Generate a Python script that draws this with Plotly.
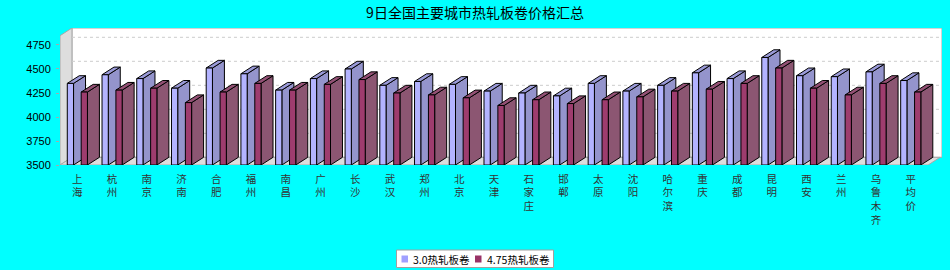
import plotly.graph_objects as go

cities = ["上海", "杭州", "南京", "济南", "合肥", "福州", "南昌", "广州", "长沙", "武汉",
          "郑州", "北京", "天津", "石家庄", "邯郸", "太原", "沈阳", "哈尔滨", "重庆", "成都",
          "昆明", "西安", "兰州", "乌鲁木齐", "平均价"]
s30 = [4350, 4440, 4400, 4300, 4510, 4450, 4280, 4400, 4500, 4330,
       4370, 4340, 4270, 4250, 4220, 4350, 4270, 4330, 4460, 4400,
       4620, 4430, 4420, 4470, 4380]
s475 = [4260, 4280, 4300, 4150, 4260, 4350, 4280, 4340, 4390, 4250,
        4230, 4200, 4120, 4180, 4140, 4180, 4210, 4270, 4290, 4350,
        4510, 4300, 4230, 4350, 4260]
series_names = ["3.0热轧板卷", "4.75热轧板卷"]
yticks = [3500, 3750, 4000, 4250, 4500, 4750]

YMIN, YMAX = 3500, 4927
XMAX = 25.4
DX, DY = 0.345, 80          # pseudo-3D depth offsets (data units)
BW = 0.18                   # bar front width
OFFS = [0.30, 0.70]
front_cols = ["#b3b3ff", "#9e3c6e"]
top_cols = ["#9a9ad8", "#935074"]
side_cols = ["#9494cc", "#8c5672"]
legend_cols = ["#a0a0ff", "#993366"]

# plot-area geometry in pixels (for layout helpers)
L, R, T, B = 60, 942, 28, 165
def px_x(p):
    return (p - L) / (R - L)
def px_y(p):
    return (B - p) / (B - T)

n = len(cities)
fig = go.Figure()
shapes = []
annotations = []

def poly(pts):
    return "M " + " L ".join(f"{x},{y}" for x, y in pts) + " Z"

# back wall
shapes.append(dict(type="path", xref="x", yref="y", layer="below",
                   path=poly([(DX, YMIN + DY), (XMAX, YMIN + DY), (XMAX, YMAX), (DX, YMAX)]),
                   fillcolor="white", line=dict(color="#a8a8a8", width=1)))
# left wall
shapes.append(dict(type="path", xref="x", yref="y", layer="below",
                   path=poly([(0, YMIN), (DX, YMIN + DY), (DX, YMAX), (0, YMAX - DY)]),
                   fillcolor="#dddddd", line=dict(color="#a8a8a8", width=1)))
# floor
shapes.append(dict(type="path", xref="x", yref="y", layer="below",
                   path=poly([(0, YMIN), (n, YMIN), (n + DX, YMIN + DY), (DX, YMIN + DY)]),
                   fillcolor="#dddddd", line=dict(color="#a8a8a8", width=1)))
# grid lines on back wall
for v in yticks[1:]:
    shapes.append(dict(type="line", xref="x", yref="y", layer="below",
                       x0=DX, x1=XMAX, y0=v + DY, y1=v + DY,
                       line=dict(color="#cccccc", width=1, dash="3px,3px")))

for k, vals in enumerate([s30, s475]):
    xs = [i + OFFS[k] for i in range(n)]
    for x, v in zip(xs, vals):
        x0, x1 = x - BW / 2, x + BW / 2
        shapes.append(dict(type="path", xref="x", yref="y", layer="between",
                           path=poly([(x1, YMIN), (x1 + DX, YMIN + DY), (x1 + DX, v + DY), (x1, v)]),
                           fillcolor=side_cols[k], line=dict(color="black", width=1)))
        shapes.append(dict(type="path", xref="x", yref="y", layer="between",
                           path=poly([(x0, v), (x1, v), (x1 + DX, v + DY), (x0 + DX, v + DY)]),
                           fillcolor=top_cols[k], line=dict(color="black", width=1)))
    fig.add_trace(go.Bar(x=xs, y=[v - YMIN for v in vals], base=YMIN, width=BW,
                         name=series_names[k],
                         marker=dict(color=front_cols[k], line=dict(color="black", width=1)),
                         showlegend=False))

# legend box (drawn manually to match the compact original legend)
shapes.append(dict(type="rect", xref="paper", yref="paper", layer="above",
                   x0=px_x(396.5), x1=px_x(553.5), y0=px_y(250), y1=px_y(267.5),
                   fillcolor="white", line=dict(color="#a0a0a0", width=1)))
leg_swatch_x = [401.5, 475]
leg_text_x = [411, 484.5]
for k in range(2):
    shapes.append(dict(type="rect", xref="paper", yref="paper", layer="above",
                       x0=px_x(leg_swatch_x[k]), x1=px_x(leg_swatch_x[k] + 6.5),
                       y0=px_y(255.5), y1=px_y(262.5),
                       fillcolor=legend_cols[k], line=dict(width=0)))
    annotations.append(dict(text=series_names[k], xref="paper", yref="paper",
                            x=px_x(leg_text_x[k]), y=px_y(259.2), xanchor="left", yanchor="middle",
                            showarrow=False,
                            font=dict(family="Noto Sans CJK SC", size=10.5, color="black")))

fig.update_layout(
    width=950, height=270,
    margin=dict(l=L, r=950 - R, t=T, b=270 - B),
    paper_bgcolor="#00ffff", plot_bgcolor="#00ffff",
    barmode="overlay",
    shapes=shapes,
    annotations=annotations,
    title=dict(text="9日全国主要城市热轧板卷价格汇总", x=0.5, xref="container", xanchor="center",
               y=1 - 13 / 270, yref="container", yanchor="middle",
               font=dict(family="Noto Sans CJK SC", size=14, color="black")),
    xaxis=dict(range=[0, XMAX], tickvals=[i + 0.5 for i in range(n)],
               ticktext=["<br>".join(list(c)) for c in cities],
               showgrid=False, zeroline=False, showline=False,
               ticks="outside", ticklen=4, tickcolor="rgba(0,0,0,0)",
               tickfont=dict(family="Noto Sans CJK SC", size=10.5, color="#333333"),
               tickangle=0),
    yaxis=dict(range=[YMIN, YMAX], tickvals=yticks, ticktext=[str(t) for t in yticks],
               showgrid=False, zeroline=False, showline=False, ticks="outside", ticklen=3,
               tickcolor="#a8a8a8", ticklabelstandoff=3,
               tickfont=dict(family="Liberation Sans", size=11, color="black")),
    showlegend=False,
)

fig.write_html("out.html")
